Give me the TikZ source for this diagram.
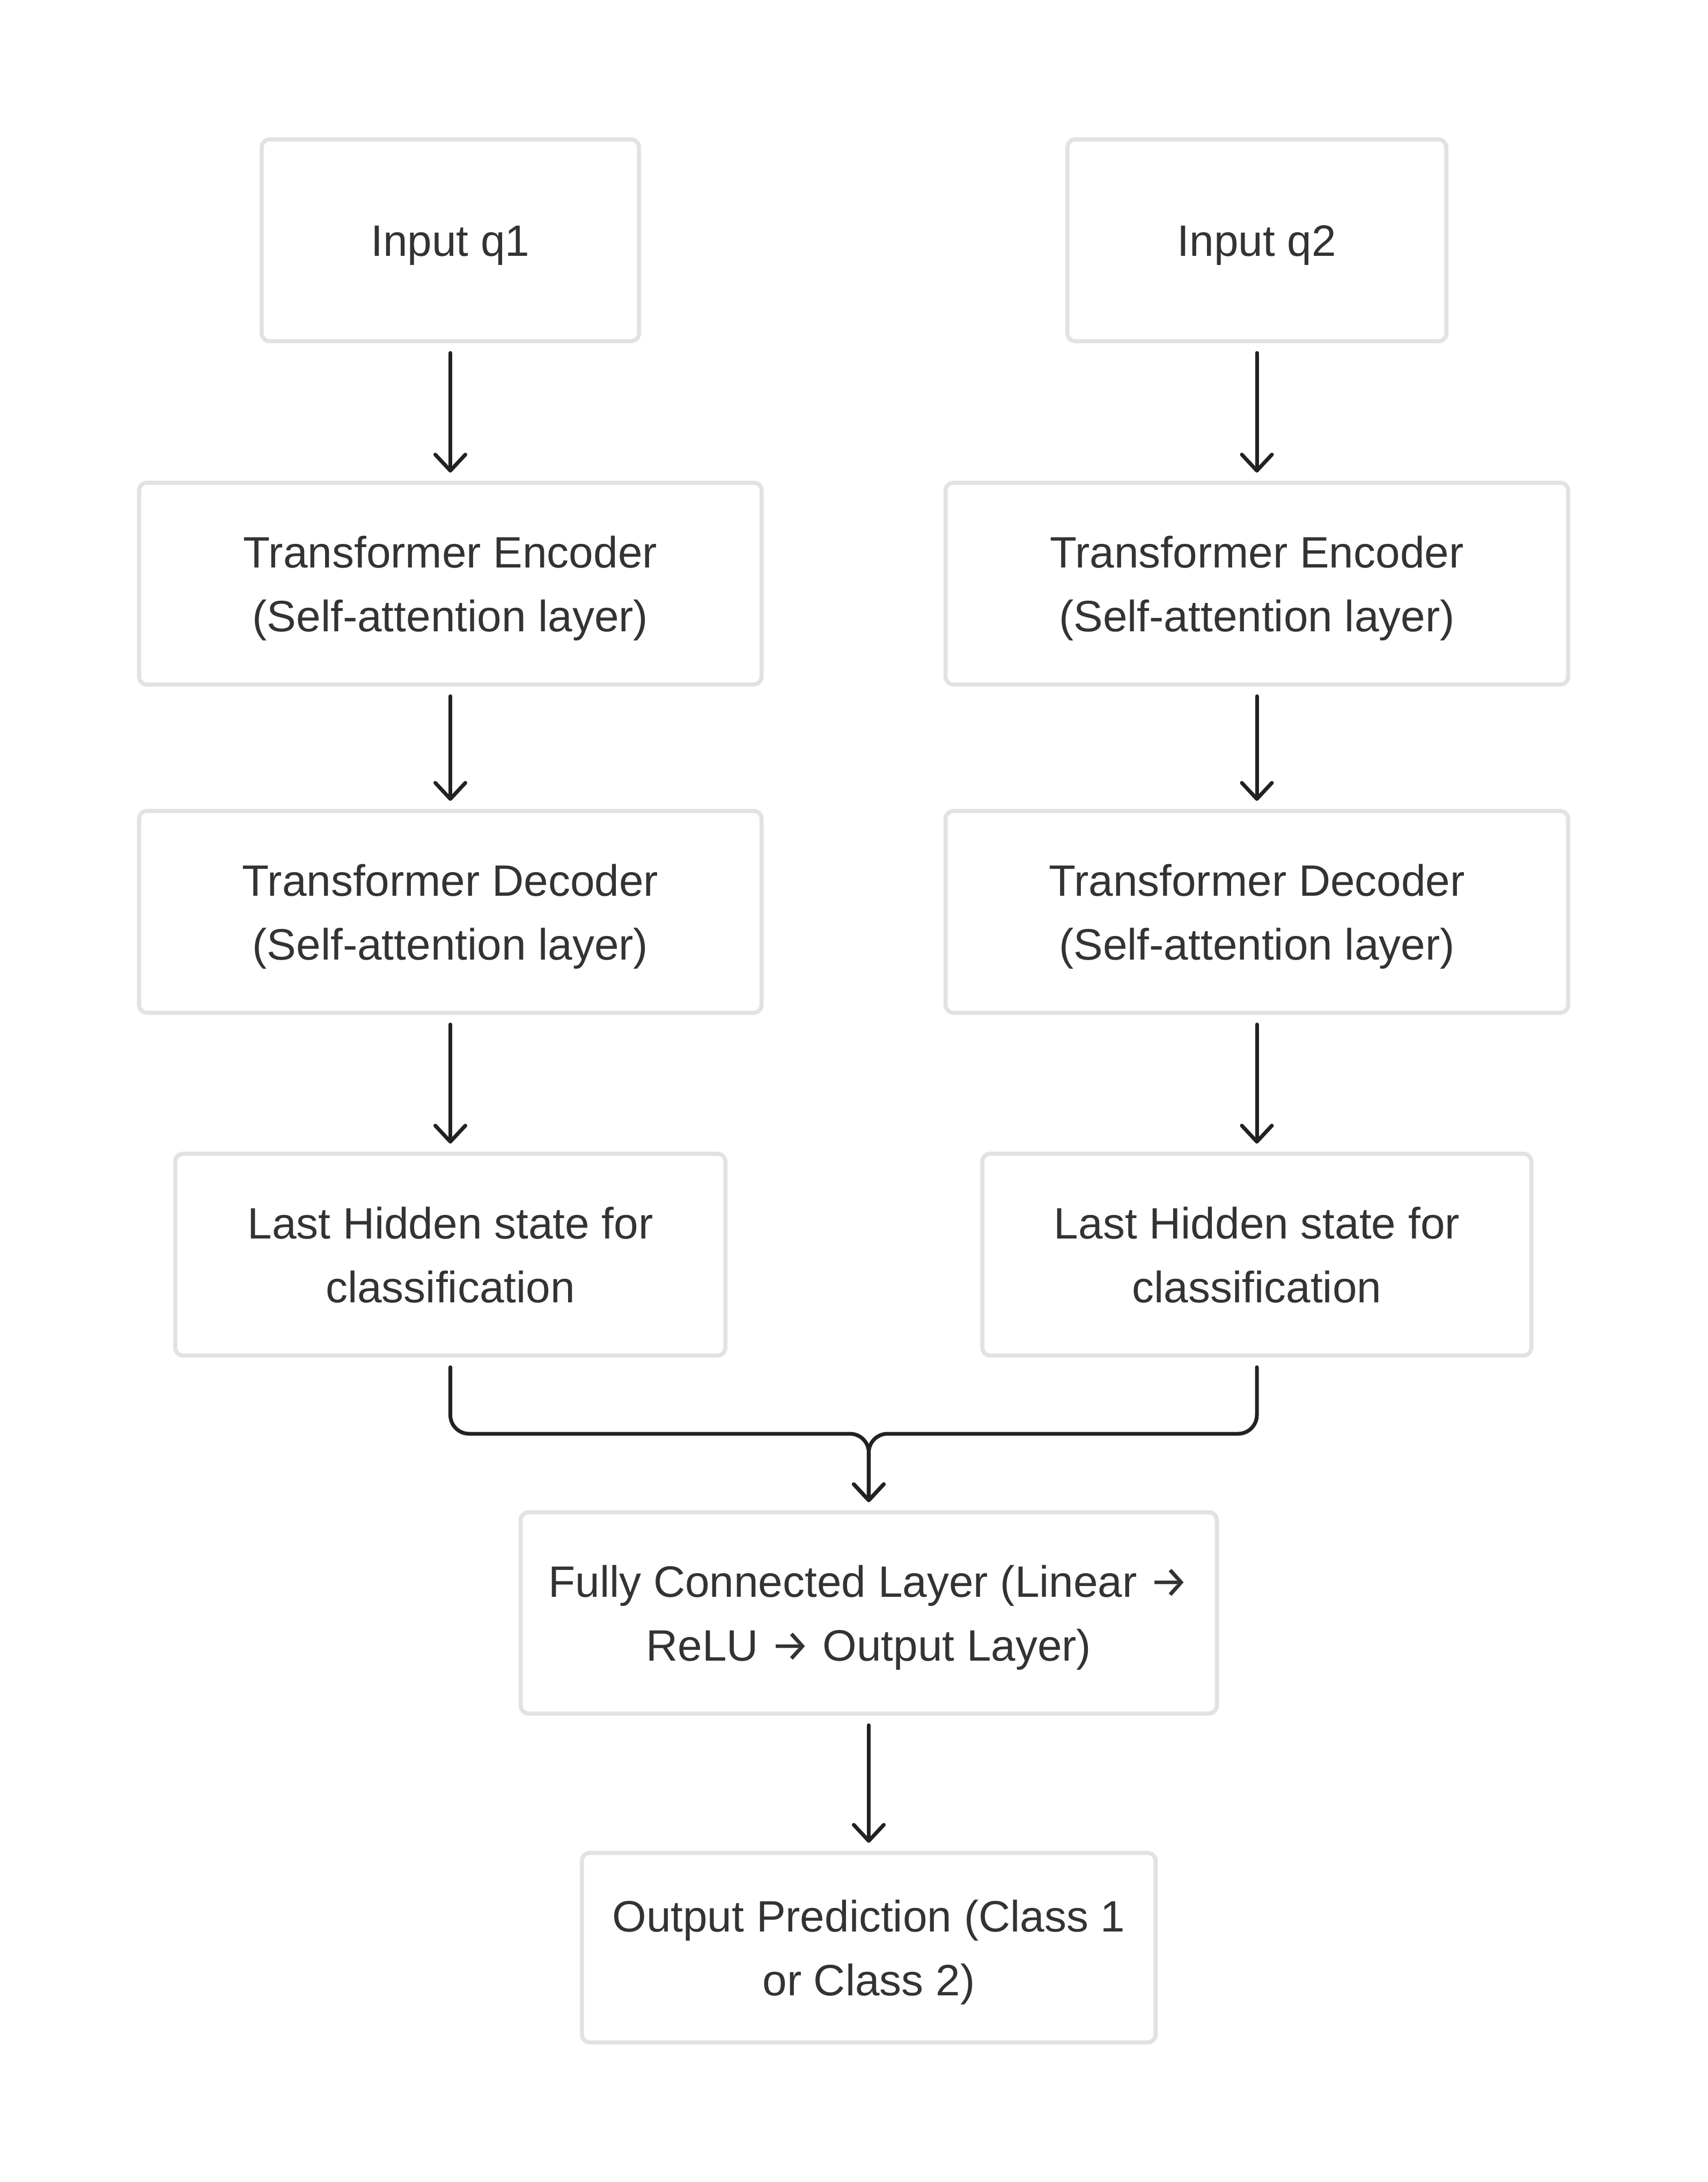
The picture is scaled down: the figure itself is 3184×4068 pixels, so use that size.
\documentclass[tikz,border=0pt]{standalone}
\usepackage{fontspec}
\setmainfont{Liberation Sans}
\newfontfamily\arrowfont{Fira Sans}
\newcommand{\rarr}{{\arrowfont →}}
\usepackage{tikz}
\usetikzlibrary{arrows.meta, positioning, calc}
\definecolor{boxgray}{HTML}{E2E2E2}
\definecolor{textgray}{HTML}{333333}
\definecolor{linegray}{HTML}{222222}

\tikzset{
	layerbox/.style={draw=boxgray, line width=2.2pt, rounded corners=0.15cm, fill=white,
		text=textgray, align=center, inner sep=0pt, text depth=7pt,
		font=\fontsize{23.3}{33.7}\selectfont},
	oneline/.style={layerbox, text height=24pt},
	twoline/.style={layerbox, text height=57.7pt},
	conn/.style={draw=linegray, line width=2pt, line cap=round,
		-{Straight Barb[length=0.3cm, width=0.56cm, line join=round, line cap=round]},
		shorten <=0.18cm, shorten >=0.15cm}
}

\begin{document}
\begin{tikzpicture}[x=0.01cm, y=-0.01cm]
		\pgfmathsetmacro{\colL}{839.5}
		\pgfmathsetmacro{\colR}{2343}
		\pgfmathsetmacro{\colM}{1619.5}
		\fill[white] (0,0) rectangle (3184,4068);
		\useasboundingbox (0,0) rectangle (3184,4068);
		
		% left branch
		\node[oneline, minimum width=7.03cm, minimum height=3.76cm] (inq1) at (\colL,448) {Input q1};
		\node[twoline, minimum width=11.6cm, minimum height=3.76cm] (enc1) at (\colL,1088) {Transformer Encoder\\(Self-attention layer)};
		\node[twoline, minimum width=11.6cm, minimum height=3.76cm] (dec1) at (\colL,1700) {Transformer Decoder\\(Self-attention layer)};
		\node[twoline, minimum width=10.25cm, minimum height=3.76cm] (hid1) at (\colL,2339) {Last Hidden state for\\classification};
		
		% right branch
		\node[oneline, minimum width=7.06cm, minimum height=3.76cm] (inq2) at (\colR,448) {Input q2};
		\node[twoline, minimum width=11.6cm, minimum height=3.76cm] (enc2) at (\colR,1088) {Transformer Encoder\\(Self-attention layer)};
		\node[twoline, minimum width=11.6cm, minimum height=3.76cm] (dec2) at (\colR,1700) {Transformer Decoder\\(Self-attention layer)};
		\node[twoline, minimum width=10.23cm, minimum height=3.76cm] (hid2) at (\colR,2339) {Last Hidden state for\\classification};
		
		% head
		\node[twoline, minimum width=12.97cm, minimum height=3.75cm] (fc) at (\colM,3007) {Fully Connected Layer (Linear \rarr\\ReLU \rarr\ Output Layer)};
		\node[twoline, minimum width=10.69cm, minimum height=3.53cm] (pred) at (\colM,3631) {Output Prediction (Class 1\\or Class 2)};
		
		\coordinate (merge) at (\colM,2673);
		
		\draw[conn] (inq1) -- (enc1);
		\draw[conn] (enc1) -- (dec1);
		\draw[conn] (dec1) -- (hid1);
		\draw[conn] (inq2) -- (enc2);
		\draw[conn] (enc2) -- (dec2);
		\draw[conn] (dec2) -- (hid2);
		\draw[conn, rounded corners=0.35cm] (hid1.south) |- (merge) -- (fc.north);
		\draw[conn, rounded corners=0.35cm] (hid2.south) |- (merge) -- (fc.north);
		\draw[conn] (fc) -- (pred);
\end{tikzpicture}
\end{document}
